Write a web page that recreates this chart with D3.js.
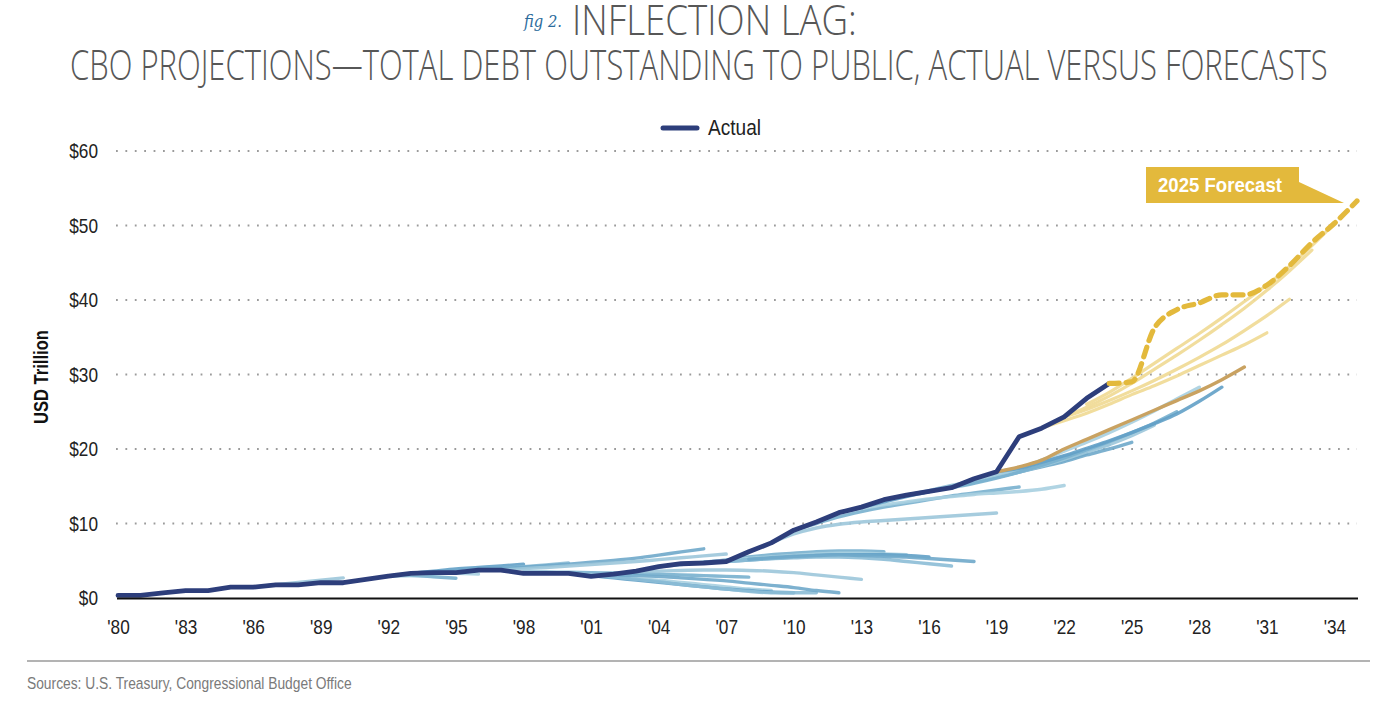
<!DOCTYPE html>
<html><head><meta charset="utf-8">
<script src="https://cdn.jsdelivr.net/npm/d3@7"></script>
<style>
html,body{margin:0;padding:0;background:#fff;}
svg{display:block;}
</style></head>
<body>
<svg id="chart" width="1382" height="706"></svg>
<script>
// ---------- DATA ----------
const actualStart = 1980;
const actualValues = [0.35, 0.35, 0.7, 1.0, 1.0, 1.45, 1.45, 1.75, 1.75, 2.05,
  2.05, 2.5, 2.95, 3.3, 3.4, 3.4, 3.75, 3.75, 3.3, 3.3,
  3.3, 2.9, 3.2, 3.6, 4.2, 4.6, 4.7, 4.9, 6.2, 7.4,
  9.1, 10.2, 11.45, 12.2, 13.2, 13.8, 14.3, 14.8, 16.0, 16.95,
  21.65, 22.8, 24.3, 26.8, 28.8];

const blueStarts = [1986, 1992, 1992, 1993, 1995, 1996, 1997, 1998, 1999, 2000, 2001, 2002, 2003,
  2004, 2005, 2006, 2007, 2008, 2009, 2010, 2012, 2013, 2014, 2015, 2016, 2017, 2018, 2019];
const blueValues = [
  [1.45, 1.8, 2.1, 2.4, 2.7],
  [2.95, 3.0, 2.85, 2.65],
  [2.95, 3.15, 3.3, 3.3, 3.2],
  [3.3, 3.6, 3.9, 4.1, 4.3, 4.55],
  [3.4, 3.7, 3.95, 4.2, 4.45, 4.7],
  [3.75, 3.95, 4.15, 4.35, 4.55, 4.8, 5.05, 5.35, 5.75, 6.2, 6.6],
  [3.75, 3.95, 4.1, 4.3, 4.5, 4.7, 4.9, 5.15, 5.4, 5.65, 5.9],
  [3.5, 3.5, 3.45, 3.4, 3.35, 3.3, 3.2, 3.1, 3.0, 2.9, 2.8],
  [3.4, 3.3, 3.1, 2.9, 2.6, 2.4, 2.1, 1.8, 1.5, 1.2, 1.0],
  [3.3, 3.0, 2.7, 2.4, 2.1, 1.8, 1.5, 1.2, 1.0, 0.8, 0.7],
  [3.0, 2.8, 2.5, 2.2, 1.8, 1.5, 1.2, 0.9, 0.7, 0.7, 0.7],
  [3.1, 3.0, 2.9, 2.7, 2.5, 2.3, 2.0, 1.7, 1.4, 1.0, 0.7],
  [3.5, 3.6, 3.7, 3.75, 3.75, 3.7, 3.6, 3.4, 3.1, 2.8, 2.5],
  [4.2, 4.5, 4.8, 5.1, 5.5, 5.8, 6.0, 6.2, 6.3, 6.3, 6.2],
  [4.6, 4.8, 5.0, 5.3, 5.5, 5.7, 5.9, 6.0, 6.0, 5.9, 5.8],
  [4.7, 4.9, 5.1, 5.3, 5.5, 5.7, 5.8, 5.8, 5.8, 5.7, 5.5],
  [4.9, 5.1, 5.3, 5.4, 5.5, 5.5, 5.4, 5.2, 4.9, 4.6, 4.3],
  [5.2, 5.4, 5.6, 5.7, 5.8, 5.7, 5.6, 5.5, 5.3, 5.1, 4.9],
  [7.4, 8.6, 9.4, 9.9, 10.2, 10.4, 10.6, 10.8, 11.0, 11.2, 11.4],
  [9.1, 10.0, 10.9, 11.6, 12.2, 12.7, 13.2, 13.7, 14.1, 14.5, 14.9],
  [11.45, 12.0, 12.5, 12.9, 13.3, 13.6, 13.9, 14.1, 14.3, 14.6, 15.1],
  [12.2, 12.9, 13.6, 14.3, 14.9, 15.6, 16.3, 17.0, 17.7, 18.5, 19.4],
  [13.1, 13.8, 14.4, 15.1, 15.8, 16.6, 17.4, 18.2, 19.0, 19.8, 20.6],
  [13.8, 14.3, 14.9, 15.5, 16.2, 16.9, 17.6, 18.3, 19.2, 20.0, 20.9],
  [14.3, 14.9, 15.5, 16.2, 16.9, 17.7, 18.6, 19.6, 20.6, 21.8, 23.2],
  [14.8, 15.4, 16.1, 16.9, 17.8, 18.8, 19.9, 21.0, 22.2, 23.5, 25.0],
  [16.0, 16.6, 17.4, 18.5, 19.7, 20.9, 22.2, 23.6, 25.1, 26.7, 28.3],
  [16.95, 17.4, 18.2, 19.1, 20.1, 21.1, 22.2, 23.4, 24.7, 26.4, 28.3]
];

const tanStart = 2019;
const tanValues = [16.95, 17.6, 18.5, 20.0, 21.3, 22.6, 23.9, 25.2, 26.5, 27.8, 29.3, 31.0];

const yellowStarts = [2021, 2022, 2022, 2023];
const yellowValues = [
  [22.8, 23.8, 24.8, 26.0, 27.3, 28.5, 29.8, 31.2, 32.6, 34.0, 35.6],
  [24.3, 25.3, 26.5, 27.8, 29.2, 30.7, 32.3, 34.0, 35.9, 37.9, 40.1],
  [24.3, 25.6, 27.1, 28.8, 30.7, 32.6, 34.6, 36.7, 38.9, 41.3, 43.9, 46.7],
  [26.0, 27.6, 29.5, 31.5, 33.5, 35.5, 37.6, 39.8, 42.0, 44.5, 47.3, 50.3]
];

const forecast2025Start = 2024;
const forecast2025Values = [28.8, 29.0, 36.2, 38.7, 39.6, 40.7, 40.7, 42.0, 44.6, 47.7, 50.3, 53.3];

const xTickValues = [1980, 1983, 1986, 1989, 1992, 1995, 1998, 2001, 2004, 2007, 2010, 2013, 2016, 2019, 2022, 2025, 2028, 2031, 2034];
const xTickLabels = ["'80","'83","'86","'89","'92","'95","'98","'01","'04","'07","'10","'13","'16","'19","'22","'25","'28","'31","'34"];
const yTickValues = [0, 10, 20, 30, 40, 50, 60];
const yTickLabels = ["$0","$10","$20","$30","$40","$50","$60"];

// ---------- DRAW ----------
const svg = d3.select("#chart");
const SANS = "'Liberation Sans Narrow', 'Liberation Sans', Arial, sans-serif";
const LIGHT = "'Open Sans', 'Liberation Sans', sans-serif";
const CONDENSE = 0.82;

const x = d3.scaleLinear().domain([1980, 2035]).range([118, 1357]);
const y = d3.scaleLinear().domain([0, 60]).range([598, 151]);

const toPts = (start, vals) => vals.map((v, i) => ({yr: start + i, v}));

// text helper: squeeze a text horizontally to a target width (or fixed factor)
function squeezedText(parent, px, py, str, attrs, target) {
  const g = parent.append("g").attr("transform", `translate(${px},${py})`);
  const t = g.append("text").text(str);
  Object.entries(attrs).forEach(([k, v]) => t.attr(k, v));
  let sx = CONDENSE;
  if (target) sx = target / t.node().getComputedTextLength();
  t.attr("transform", `scale(${sx},1)`);
  return g;
}

// gridlines
svg.append("g").selectAll("line").data(yTickValues.filter(d => d > 0)).join("line")
  .attr("x1", 116).attr("x2", 1357)
  .attr("y1", d => y(d)).attr("y2", d => y(d))
  .attr("stroke", "#9b9b9b").attr("stroke-width", 1.8)
  .attr("stroke-dasharray", "1.8,7.6");

// y axis labels
const yAxis = svg.append("g").attr("transform", "translate(118,0)")
  .call(d3.axisLeft(y).tickValues(yTickValues).tickFormat((d, i) => yTickLabels[i]).tickSize(0).tickPadding(20 / CONDENSE));
yAxis.select(".domain").remove();
yAxis.selectAll("text").attr("font-family", SANS).attr("font-size", 21).attr("fill", "#222")
  .attr("transform", `scale(${CONDENSE},1)`);

// x axis
const xAxis = svg.append("g").attr("transform", "translate(0,598)")
  .call(d3.axisBottom(x).tickValues(xTickValues).tickFormat((d, i) => xTickLabels[i]).tickSize(0).tickPadding(21));
xAxis.select(".domain").remove();
xAxis.selectAll("text").attr("font-family", SANS).attr("font-size", 21).attr("fill", "#222")
  .attr("transform", `scale(${CONDENSE},1)`);

const smooth = d3.line().x(d => x(d.yr)).y(d => y(d.v)).curve(d3.curveMonotoneX);
const straight = d3.line().x(d => x(d.yr)).y(d => y(d.v));

const bluePalette = ["#9cc6da", "#78b0ce", "#a7cfe0", "#62a0c6", "#8cbdd6", "#6fa9ca"];
const plot = svg.append("g");

plot.selectAll(".blue").data(blueValues).join("path")
  .attr("d", (vals, i) => smooth(toPts(blueStarts[i], vals)))
  .attr("fill", "none")
  .attr("stroke", (d, i) => bluePalette[i % bluePalette.length])
  .attr("stroke-width", 3.4).attr("stroke-linecap", "round").attr("stroke-opacity", 0.9);

plot.append("path").attr("d", smooth(toPts(tanStart, tanValues)))
  .attr("fill", "none").attr("stroke", "#c9a261").attr("stroke-width", 3.4)
  .attr("stroke-linecap", "round");

plot.selectAll(".yel").data(yellowValues).join("path")
  .attr("d", (vals, i) => smooth(toPts(yellowStarts[i], vals)))
  .attr("fill", "none").attr("stroke", "#f0db98").attr("stroke-width", 3.2)
  .attr("stroke-linecap", "round").attr("stroke-opacity", 0.95);

// baseline
svg.append("line").attr("x1", 117).attr("x2", 1358).attr("y1", 598.5).attr("y2", 598.5)
  .attr("stroke", "#111").attr("stroke-width", 2);

// actual
plot.append("path").attr("d", straight(toPts(actualStart, actualValues)))
  .attr("fill", "none").attr("stroke", "#2d3e7b").attr("stroke-width", 4.8)
  .attr("stroke-linejoin", "round").attr("stroke-linecap", "round");

// 2025 forecast dashed
plot.append("path").attr("d", smooth(toPts(forecast2025Start, forecast2025Values)))
  .attr("fill", "none").attr("stroke", "#e3b93c").attr("stroke-width", 5.2)
  .attr("stroke-dasharray", "10,7").attr("stroke-linecap", "round");

// annotation flag
svg.append("path").attr("d", "M1146,167 L1299,167 L1299,182 L1344,203 L1146,203 Z").attr("fill", "#e3b93c");
squeezedText(svg, 1158, 192, "2025 Forecast",
  {"font-family": SANS, "font-weight": "bold", "font-size": 20, "fill": "#fff"}, 124);

// legend
svg.append("line").attr("x1", 663).attr("x2", 697).attr("y1", 128).attr("y2", 128)
  .attr("stroke", "#2d3e7b").attr("stroke-width", 5).attr("stroke-linecap", "round");
squeezedText(svg, 708, 135, "Actual", {"font-family": SANS, "font-size": 22, "fill": "#222"}, 53);

// y axis title
const yt = svg.append("g").attr("transform", "translate(48,377) rotate(-90)");
squeezedText(yt, -47, 0, "USD Trillion",
  {"font-family": SANS, "font-weight": "bold", "font-size": 20, "fill": "#111"}, 94);

// titles
squeezedText(svg, 524, 27, "fig 2.",
  {"font-family": "'DejaVu Serif', 'Liberation Serif', serif", "font-style": "italic",
   "font-size": 17, "fill": "#2b6b9c"}, 38);
squeezedText(svg, 572, 35, "INFLECTION LAG:",
  {"font-family": LIGHT, "font-weight": 300, "font-size": 42, "fill": "#575757"}, 285);
squeezedText(svg, 70, 80, "CBO PROJECTIONS\u2014TOTAL DEBT OUTSTANDING TO PUBLIC, ACTUAL VERSUS FORECASTS",
  {"font-family": LIGHT, "font-weight": 300, "font-size": 42, "fill": "#575757"}, 1258);

// source
svg.append("line").attr("x1", 27).attr("x2", 1370).attr("y1", 661).attr("y2", 661)
  .attr("stroke", "#9a9a9a").attr("stroke-width", 1.5);
squeezedText(svg, 27, 689, "Sources: U.S. Treasury, Congressional Budget Office",
  {"font-family": SANS, "font-size": 17, "fill": "#7a7a7a"}, 325);
</script>
</body></html>
